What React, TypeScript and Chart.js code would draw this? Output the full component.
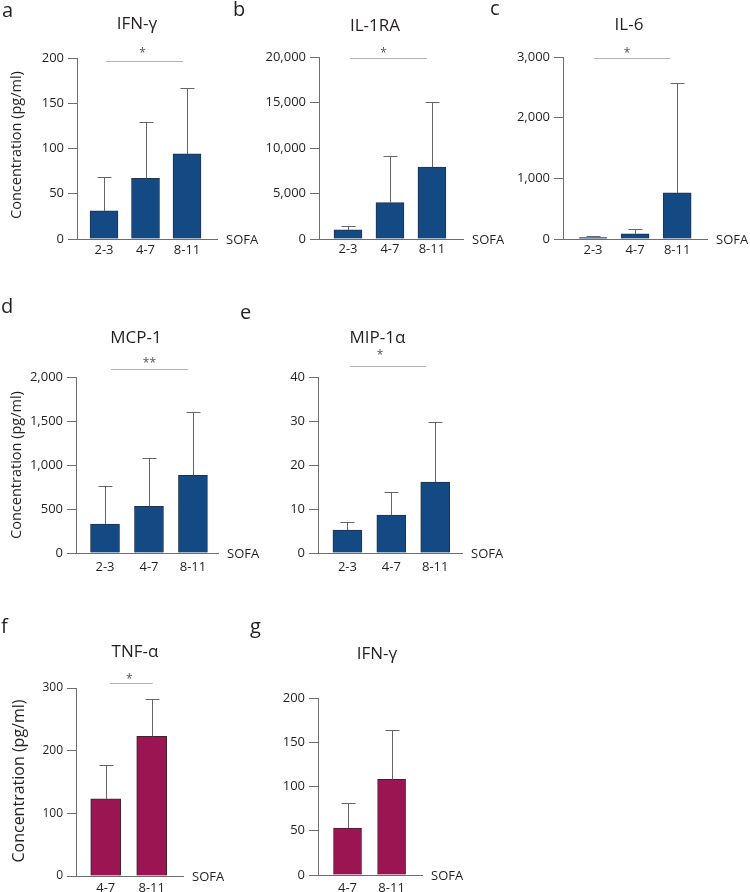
import React, { useEffect, useRef } from 'react';
import { Chart, registerables } from 'chart.js';

Chart.register(...registerables);

const W = 750;
const H = 892;
const FONT = '"Open Sans", "DejaVu Sans", sans-serif';
const AXIS = '#6e6e6e';
const ERR = '#666666';
const SIG = '#b0b0b0';
const TEXT = '#231f20';
const BLUE = '#134a84';
const BLUE_EDGE = '#22314d';
const RED = '#9b1552';
const RED_EDGE = '#44222f';

// ---- data ----
const sofa3 = ['2-3', '4-7', '8-11'];
const sofa2 = ['4-7', '8-11'];

const ifngMean = [31, 67, 94];
const ifngSD = [37, 62, 73];
const ifngTicks = [0, 50, 100, 150, 200];

const il1raMean = [1000, 4000, 7900];
const il1raSD = [450, 5100, 7200];
const il1raTicks = [0, 5000, 10000, 15000, 20000];

const il6Mean = [25, 85, 760];
const il6SD = [20, 80, 1810];
const il6Ticks = [0, 1000, 2000, 3000];

const mcp1Mean = [330, 530, 883];
const mcp1SD = [430, 550, 717];
const mcp1Ticks = [0, 500, 1000, 1500, 2000];

const mip1aMean = [5.2, 8.6, 16.1];
const mip1aSD = [1.9, 5.3, 13.6];
const mip1aTicks = [0, 10, 20, 30, 40];

const tnfaMean = [123, 223];
const tnfaSD = [54, 60];
const tnfaTicks = [0, 100, 200, 300];

const ifng2Mean = [53, 108];
const ifng2SD = [28, 56];
const ifng2Ticks = [0, 50, 100, 150, 200];

const sigA = { from: 1, to: 3, label: '*' };
const sigB = { from: 1, to: 3, label: '*' };
const sigC = { from: 1, to: 3, label: '*' };
const sigD = { from: 1, to: 3, label: '**' };
const sigE = { from: 1, to: 3, label: '*' };
const sigF = { from: 1, to: 2, label: '*' };

const Y_TITLE = 'Concentration (pg/ml)';
const X_NAME = 'SOFA';

// ---- layout (positions / styles) ----
type Layout = {
  axisX: number; top: number; bottom: number; right: number;
  xMin: number; xMax: number; barW: number; xPad: number;
  letterX: number; letterY: number; titleX: number; titleY: number;
  yTitleX?: number; yTitleY?: number; yTitleSize?: number;
  sigY?: number; sigInset?: [number, number]; starY?: number; starDx?: number;
  tickSize: number;
};

type Panel = {
  letter: string; title: string; cats: string[]; mean: number[]; sd: number[];
  ticks: number[]; sig: { from: number; to: number; label: string } | null;
  yTitle: boolean; fill: string; edge: string; L: Layout;
};

const panels: Panel[] = [
  {
    letter: 'a', title: 'IFN-γ', cats: sofa3, mean: ifngMean, sd: ifngSD, ticks: ifngTicks, sig: sigA,
    yTitle: true, fill: BLUE, edge: BLUE_EDGE,
    L: { axisX: 77, top: 58, bottom: 239, right: 217, xMin: 0.349, xMax: 3.723, barW: 28, xPad: 3,
      letterX: 2, letterY: 17, titleX: 137, titleY: 29, yTitleX: 21, yTitleY: 145, yTitleSize: 14.5,
      sigY: 61, sigInset: [2, 4], starY: 50, starDx: -2, tickSize: 13 },
  },
  {
    letter: 'b', title: 'IL-1RA', cats: sofa3, mean: il1raMean, sd: il1raSD, ticks: il1raTicks, sig: sigB,
    yTitle: false, fill: BLUE, edge: BLUE_EDGE,
    L: { axisX: 319, top: 57, bottom: 239, right: 463, xMin: 0.31, xMax: 3.74, barW: 28, xPad: 2,
      letterX: 233, letterY: 16, titleX: 375, titleY: 30.5,
      sigY: 58, sigInset: [2, 5], starY: 50, starDx: -5, tickSize: 13 },
  },
  {
    letter: 'c', title: 'IL-6', cats: sofa3, mean: il6Mean, sd: il6SD, ticks: il6Ticks, sig: sigC,
    yTitle: false, fill: BLUE, edge: BLUE_EDGE,
    L: { axisX: 563, top: 57, bottom: 239, right: 707, xMin: 0.286, xMax: 3.71, barW: 28, xPad: 3,
      letterX: 490, letterY: 15, titleX: 629, titleY: 30,
      sigY: 58, sigInset: [1, 7], starY: 50, starDx: -5, tickSize: 13 },
  },
  {
    letter: 'd', title: 'MCP-1', cats: sofa3, mean: mcp1Mean, sd: mcp1SD, ticks: mcp1Ticks, sig: sigD,
    yTitle: true, fill: BLUE, edge: BLUE_EDGE,
    L: { axisX: 76, top: 377, bottom: 553, right: 218, xMin: 0.34, xMax: 3.57, barW: 29, xPad: 6,
      letterX: 1, letterY: 313, titleX: 136, titleY: 342.5, yTitleX: 21, yTitleY: 465, yTitleSize: 14.5,
      sigY: 369, sigInset: [6, 5], starY: 360, starDx: 0, tickSize: 13 },
  },
  {
    letter: 'e', title: 'MIP-1α', cats: sofa3, mean: mip1aMean, sd: mip1aSD, ticks: mip1aTicks, sig: sigE,
    yTitle: false, fill: BLUE, edge: BLUE_EDGE,
    L: { axisX: 318, top: 377, bottom: 553, right: 462, xMin: 0.33, xMax: 3.61, barW: 29, xPad: 6,
      letterX: 240, letterY: 319, titleX: 377.5, titleY: 342.5,
      sigY: 366, sigInset: [2.5, 9], starY: 352, starDx: -8, tickSize: 13 },
  },
  {
    letter: 'f', title: 'TNF-α', cats: sofa2, mean: tnfaMean, sd: tnfaSD, ticks: tnfaTicks, sig: sigF,
    yTitle: true, fill: RED, edge: RED_EDGE,
    L: { axisX: 76, top: 688, bottom: 876, right: 183, xMin: 0.354, xMax: 2.68, barW: 30, xPad: 4,
      letterX: 1, letterY: 633, titleX: 135, titleY: 657, yTitleX: 24, yTitleY: 781, yTitleSize: 16,
      sigY: 683, sigInset: [4, -1], starY: 676, starDx: -2, tickSize: 12 },
  },
  {
    letter: 'g', title: 'IFN-γ', cats: sofa2, mean: ifng2Mean, sd: ifng2SD, ticks: ifng2Ticks, sig: null,
    yTitle: false, fill: RED, edge: RED_EDGE,
    L: { axisX: 318, top: 698, bottom: 875, right: 422, xMin: 0.33, xMax: 2.69, barW: 28, xPad: 5,
      letterX: 250, letterY: 633, titleX: 377, titleY: 659, tickSize: 13 },
  },
];

const YW = 72;
const CAP = 14;

function text(ctx: CanvasRenderingContext2D, s: string, x: number, y: number, size: number,
  color: string, align: CanvasTextAlign = 'left', baseline: CanvasTextBaseline = 'alphabetic') {
  ctx.font = `${size}px ${FONT}`;
  ctx.fillStyle = color;
  ctx.textAlign = align;
  ctx.textBaseline = baseline;
  ctx.fillText(s, x, y);
}

function decor(p: Panel) {
  return {
    id: 'decor_' + p.letter,
    afterDatasetsDraw(chart: any) {
      const ctx: CanvasRenderingContext2D = chart.ctx;
      const xs = chart.scales.x;
      const ys = chart.scales.y;
      const L = p.L;
      ctx.save();
      // error bars
      ctx.strokeStyle = ERR;
      ctx.lineWidth = 1;
      chart.getDatasetMeta(0).data.forEach((bar: any, i: number) => {
        const x = Math.round(bar.x) + 0.5;
        const y0 = bar.y;
        const y1 = Math.round(ys.getPixelForValue(p.mean[i] + p.sd[i])) + 0.5;
        ctx.beginPath();
        ctx.moveTo(x, y0);
        ctx.lineTo(x, y1);
        ctx.moveTo(x - CAP / 2, y1);
        ctx.lineTo(x + CAP / 2, y1);
        ctx.stroke();
      });
      // significance
      if (p.sig && L.sigY !== undefined && L.sigInset) {
        const x1 = xs.getPixelForValue(p.sig.from) + L.sigInset[0];
        const x2 = xs.getPixelForValue(p.sig.to) - L.sigInset[1];
        ctx.strokeStyle = SIG;
        ctx.beginPath();
        ctx.moveTo(x1, L.sigY + 0.5);
        ctx.lineTo(x2, L.sigY + 0.5);
        ctx.stroke();
        text(ctx, p.sig.label, (x1 + x2) / 2 + (L.starDx || 0), (L.starY || 0) + 6.5, 12, '#555', 'center');
      }
      // title, letter, axis name
      text(ctx, p.title, L.titleX, L.titleY, 17, TEXT, 'center');
      text(ctx, p.letter, L.letterX, L.letterY, 20, TEXT, 'left');
      text(ctx, X_NAME, xs.right + 9, ys.bottom + 1.5, 13, TEXT, 'left', 'middle');
      if (p.yTitle && L.yTitleX !== undefined) {
        ctx.save();
        ctx.translate(L.yTitleX, L.yTitleY || 0);
        ctx.rotate(-Math.PI / 2);
        text(ctx, Y_TITLE, 0, 0, L.yTitleSize || 14, TEXT, 'center');
        ctx.restore();
      }
      ctx.restore();
    },
  };
}

function makeChart(canvas: HTMLCanvasElement, p: Panel) {
  const L = p.L;
  const XH = Math.min(30, H - L.bottom);
  const data = p.mean.map((m, i) => ({ x: i + 1, y: m }));
  return new Chart(canvas, {
    type: 'bar',
    data: {
      datasets: [{
        data: data as any,
        backgroundColor: p.fill,
        borderColor: p.edge,
        borderWidth: 1,
        barThickness: L.barW,
      }],
    },
    options: {
      responsive: false,
      animation: false,
      events: [],
      layout: {
        padding: { left: L.axisX - YW, right: W - L.right, top: L.top, bottom: H - L.bottom - XH },
      },
      plugins: { legend: { display: false }, tooltip: { enabled: false }, title: { display: false } },
      scales: {
        x: {
          type: 'linear',
          min: L.xMin,
          max: L.xMax,
          offset: false,
          bounds: 'data',
          grid: { display: false, drawTicks: false },
          border: { display: true, color: AXIS, width: 1 },
          ticks: {
            autoSkip: false,
            maxRotation: 0,
            padding: L.xPad,
            color: TEXT,
            font: { family: FONT, size: 13 },
            callback: (_v: any, i: number) => p.cats[i],
          },
          afterBuildTicks: (s: any) => { s.ticks = p.cats.map((_, i) => ({ value: i + 1 })); },
          afterFit: (s: any) => { s.height = XH; },
        } as any,
        y: {
          type: 'linear',
          min: 0,
          max: p.ticks[p.ticks.length - 1],
          grid: { display: true, drawOnChartArea: false, drawTicks: true, tickLength: 9, color: AXIS, lineWidth: 1 },
          border: { display: true, color: AXIS, width: 1 },
          ticks: {
            padding: 4,
            color: TEXT,
            font: { family: FONT, size: L.tickSize },
            callback: (v: any) => Number(v).toLocaleString('en-US'),
          },
          afterBuildTicks: (s: any) => { s.ticks = p.ticks.map((v) => ({ value: v })); },
          afterFit: (s: any) => { s.width = YW; },
        } as any,
      },
    },
    plugins: [decor(p)],
  });
}

export default function App() {
  const refs = useRef<(HTMLCanvasElement | null)[]>([]);
  useEffect(() => {
    const charts = panels.map((p, i) => makeChart(refs.current[i] as HTMLCanvasElement, p));
    return () => charts.forEach((c) => c.destroy());
  }, []);
  return (
    <div style={{ position: 'absolute', left: 0, top: 0, width: W, height: H, background: '#fff' }}>
      {panels.map((p, i) => (
        <canvas
          key={p.letter}
          ref={(el) => { refs.current[i] = el; }}
          width={W}
          height={H}
          style={{ position: 'absolute', left: 0, top: 0, width: W, height: H }}
        />
      ))}
    </div>
  );
}
